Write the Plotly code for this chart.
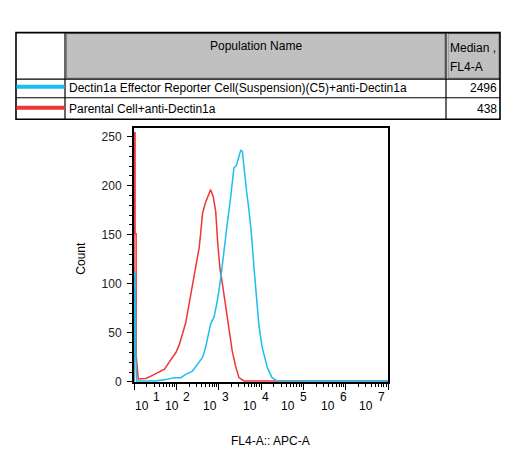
import plotly.graph_objects as go

W, H = 518, 490
# the photographed picture comes out ~1.7% shorter vertically than the page;
# compensate so that window positions match the reference
YS = 478 / 470

# ---------------- data ----------------
series_names = ["Dectin1a Effector Reporter Cell(Suspension)(C5)+anti-Dectin1a",
                "Parental Cell+anti-Dectin1a"]
medians = ["2496", "438"]
series_colors = ["#1cbdf0", "#f03535"]

# log10(FL4-A) positions and counts
blue_log = [1.0, 1.0, 1.025, 1.025, 1.04, 1.04, 1.06, 1.5, 1.79, 1.87, 1.95, 2.11, 2.22,
            2.38, 2.50, 2.62, 2.69, 2.77, 2.81, 2.89, 2.97, 3.05, 3.12, 3.20, 3.28, 3.36,
            3.42, 3.48, 3.52, 3.56, 3.61, 3.66, 3.71, 3.77, 3.83, 3.89, 3.95, 4.03, 4.15,
            4.26, 4.38, 5.0, 7.0]
blue_cnt = [0, 111, 111, 55, 55, 31, 1, 1, 2.7, 3.7, 4.4, 4.4, 7.8,
            11, 18, 25, 35, 52, 59, 66, 83, 106, 133, 160, 187, 218,
            221, 231, 236, 235, 211, 194, 177, 153, 119, 85, 58, 35, 14.6,
            4.4, 1, 0.8, 0.8]

red_log = [1.0, 1.0, 1.025, 1.025, 1.05, 1.05, 1.1, 1.28, 1.40, 1.56, 1.72, 1.86, 1.99,
           2.07, 2.15, 2.22, 2.30, 2.38, 2.46, 2.54, 2.58, 2.62, 2.69, 2.77, 2.81, 2.87,
           2.93, 2.98, 3.03, 3.09, 3.16, 3.24, 3.32, 3.40, 3.48, 3.60, 4.2, 7.0]
red_cnt = [0, 254, 254, 151, 151, 28, 3, 3.5, 6, 9.5, 13, 22, 30,
           38, 48.5, 60, 79, 99.5, 120, 137, 154, 172, 183, 191, 196, 189,
           174, 140, 116, 99.5, 79, 52, 31.6, 16, 4.4, 1, 1, 1]

x_exponents = [1, 2, 3, 4, 5, 6, 7]
y_ticks = [0, 50, 100, 150, 200, 250]

# ---------------- helpers (window pixel -> paper) ----------------
def px(x):
    return x / W

def py(y):
    return 1 - y * YS / H

FONT = "Liberation Sans, Arial, sans-serif"

fig = go.Figure()
fig.add_trace(go.Scatter(x=[10 ** v for v in red_log], y=red_cnt, mode="lines",
                         line=dict(color=series_colors[1], width=1.5),
                         name=series_names[1], showlegend=False, hoverinfo="skip"))
fig.add_trace(go.Scatter(x=[10 ** v for v in blue_log], y=blue_cnt, mode="lines",
                         line=dict(color=series_colors[0], width=1.5),
                         name=series_names[0], showlegend=False, hoverinfo="skip"))

shapes = []
annotations = []

# ---------------- table ----------------
tx0, tx1, tx2, tx3 = 16, 65, 446, 500
ty0, ty1, ty2, ty3 = 32.5, 79, 97.5, 119

for a, b in [(tx1 + 1.5, tx2 - 1), (tx2 + 2, tx3 - 1)]:
    shapes.append(dict(type="rect", xref="paper", yref="paper",
                       x0=px(a), x1=px(b), y0=py(ty1 - 1), y1=py(ty0 + 1),
                       fillcolor="#c0c0c0", line=dict(color="#808080", width=1), layer="above"))
shapes.append(dict(type="rect", xref="paper", yref="paper",
                   x0=px(tx0), x1=px(tx3), y0=py(ty3), y1=py(ty0),
                   line=dict(color="black", width=1.6), fillcolor="rgba(0,0,0,0)", layer="above"))
for yy in [ty1, ty2]:
    shapes.append(dict(type="line", xref="paper", yref="paper",
                       x0=px(tx0), x1=px(tx3), y0=py(yy), y1=py(yy),
                       line=dict(color="black", width=1.2), layer="above"))
for xx in [tx1, tx2]:
    shapes.append(dict(type="line", xref="paper", yref="paper",
                       x0=px(xx), x1=px(xx), y0=py(ty3), y1=py(ty0),
                       line=dict(color="black", width=1.2), layer="above"))
for yy, col in [(86.5, series_colors[0]), (107.5, series_colors[1])]:
    shapes.append(dict(type="line", xref="paper", yref="paper",
                       x0=px(tx0 + 0.5), x1=px(tx1 - 0.5), y0=py(yy), y1=py(yy),
                       line=dict(color=col, width=4), layer="above"))

def text(x, y, s, xa="left", size=12, angle=0):
    annotations.append(dict(x=px(x), y=py(y), xref="paper", yref="paper", text=s,
                            showarrow=False, xanchor=xa, yanchor="middle", textangle=angle,
                            font=dict(family=FONT, size=size, color="black")))

text((tx1 + tx2) / 2, 46, "Population Name", "center")
text(tx2 + 1.5, 48, "Median ,")
text(tx2 + 1.5, 67, "FL4-A")
text(tx1 + 2, 88, series_names[0])
text(tx1 + 2, 109, series_names[1])
text(tx3 - 1.5, 88, medians[0], "right")
text(tx3 - 1.5, 109, medians[1], "right")

# ---------------- x tick labels, placed as the cytometer software draws them ----------------
base_right_px = [150.7, 180.7, 219, 259, 297.3, 337.3, 375]
for e, bx in zip(x_exponents, base_right_px):
    text(bx, 405, "10", "right", 12)
    text(bx + 0.5, 396, str(e), "left", 12)

# axis titles
text(270, 440, "FL4-A:: APC-A", "center")
text(81, 258, "Count", "center", 12, -90)

fig.update_layout(
    width=W, height=H, autosize=False,
    margin=dict(l=0, r=0, t=0, b=0),
    paper_bgcolor="white", plot_bgcolor="white",
    showlegend=False,
    shapes=shapes, annotations=annotations,
    font=dict(family=FONT, size=12, color="black"),
    xaxis=dict(domain=[px(134), px(388)], type="log", range=[1, 7],
               showgrid=False, zeroline=False, showline=True, linecolor="black",
               linewidth=2, mirror=True, ticks="outside", ticklen=6, tickwidth=1,
               tickcolor="black", tickvals=[10 ** e for e in x_exponents],
               showticklabels=False,
               minor=dict(ticks="outside", ticklen=3.5, tickwidth=1, tickcolor="black",
                          dtick="D1", showgrid=False)),
    yaxis=dict(domain=[py(381), py(128)], range=[0, 258.5],
               showgrid=False, zeroline=False, showline=True, linecolor="black",
               linewidth=2, mirror=True, ticks="outside", ticklen=5, tickwidth=1,
               tickcolor="black", tickvals=y_ticks, ticklabelstandoff=3,
               tickfont=dict(family=FONT, size=12, color="#222"),
               minor=dict(ticks="outside", ticklen=3, tickwidth=1, tickcolor="black",
                          dtick=10, showgrid=False)),
)

# remove the browser's default 8px page margin so figure pixels match window pixels
fig.write_html("out.html", config={"displayModeBar": False},
               post_script="document.body.style.margin='0px';document.body.style.overflow='hidden';")
